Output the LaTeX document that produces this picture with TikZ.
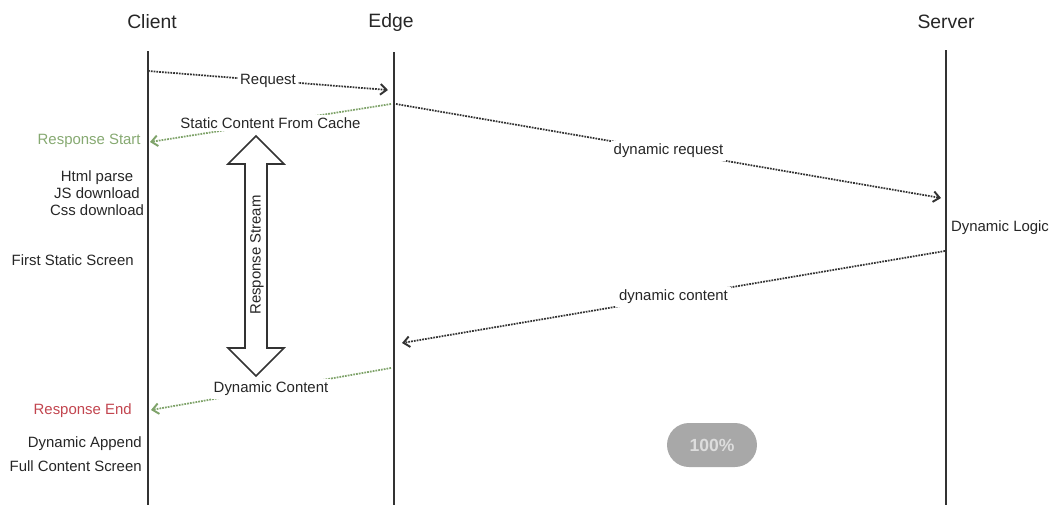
\documentclass[tikz,border=0pt]{standalone}
\usepackage{fontspec}
\setmainfont{Liberation Sans}
\usetikzlibrary{arrows.meta}
\definecolor{linegray}{HTML}{333333}
\definecolor{msggreen}{HTML}{7FA36A}
\definecolor{startgreen}{HTML}{86A971}
\definecolor{endred}{HTML}{C2454F}
\definecolor{badgegray}{HTML}{A8A8A8}
\definecolor{badgetext}{HTML}{DDDDDD}

\begin{document}
\begin{tikzpicture}[x=0.02cm,y=-0.02cm,
  lifeline/.style={linegray,line width=1.15pt},
  msg/.style={linegray,line width=1pt,dash pattern=on 1pt off 0.6pt,
    -{Straight Barb[length=3.5pt,width=6pt,line width=1.1pt]}},
  greenmsg/.style={msg,msggreen},
  title/.style={font=\fontsize{11}{13}\selectfont,text=black!85},
  lbl/.style={font=\fontsize{8.5}{9.6}\selectfont,text=black!85,inner sep=0pt},
  onmsg/.style={lbl,fill=white,inner sep=1.5pt},
  badge/.style={fill=badgegray,text=badgetext,font=\fontsize{10}{12}\selectfont\bfseries,
    minimum width=1.8cm,minimum height=0.88cm,rounded corners=0.44cm}]
\useasboundingbox (0,0) rectangle (1063,505);
\node[title] (client) at (152,22) {Client};
\node[title] (edge) at (391,22) {Edge};
\node[title] (server) at (946,22) {Server};
\coordinate (c-top) at (148,51);
\coordinate (c-bot) at (148,505);
\coordinate (e-top) at (394,52);
\coordinate (e-bot) at (394,505);
\coordinate (s-top) at (946,50);
\coordinate (s-bot) at (946,505);
\draw[lifeline] (c-top) -- (c-bot);
\draw[lifeline] (e-top) -- (e-bot);
\draw[lifeline] (s-top) -- (s-bot);
\coordinate (req-s) at (148,71);
\coordinate (req-e) at (388,90);
\coordinate (sc-s) at (391,104);
\coordinate (sc-e) at (150,142);
\coordinate (dr-s) at (396,104);
\coordinate (dr-e) at (941,198);
\coordinate (dc-s) at (945,251);
\coordinate (dc-e) at (402,343);
\coordinate (dyn-s) at (391,368);
\coordinate (dyn-e) at (151,410);
\draw[msg] (req-s) -- node[onmsg] (request) {Request} (req-e);
\draw[greenmsg] (sc-s) -- node[onmsg] (static) {Static Content From Cache} (sc-e);
\draw[msg] (dr-s) -- node[onmsg] (dynreq) {dynamic request} (dr-e);
\draw[msg] (dc-s) -- node[onmsg] (dyncont) {dynamic content} (dc-e);
\draw[greenmsg] (dyn-s) -- node[onmsg] (dynamic) {Dynamic Content} (dyn-e);
\node[lbl,text=startgreen,anchor=east] (respstart) at (141,141) {Response Start};
\node[lbl,align=center] (parse) at (97,193) {Html parse\\JS download\\Css download};
\node[lbl,anchor=east] (firststatic) at (134,260) {First Static Screen};
\node[lbl,text=endred,anchor=east] (respend) at (132,411) {Response End};
\node[lbl,anchor=east] (append) at (142,444) {Dynamic Append};
\node[lbl,anchor=east] (fullscreen) at (142,466) {Full Content Screen};
\node[lbl] (logic) at (1000,228) {Dynamic Logic};
\draw[linegray,line width=0.9pt,fill=white] (245,164) -- (228,164) -- (256,136) -- (284,164)
  -- (267,164) -- (267,348) -- (284,348) -- (256,376) -- (228,348) -- (245,348) -- cycle;
\node[lbl,rotate=90] (stream) at (257,255) {Response Stream};
\node[badge] (zoomlevel) at (712,445) {100\%};
\end{tikzpicture}
\end{document}
